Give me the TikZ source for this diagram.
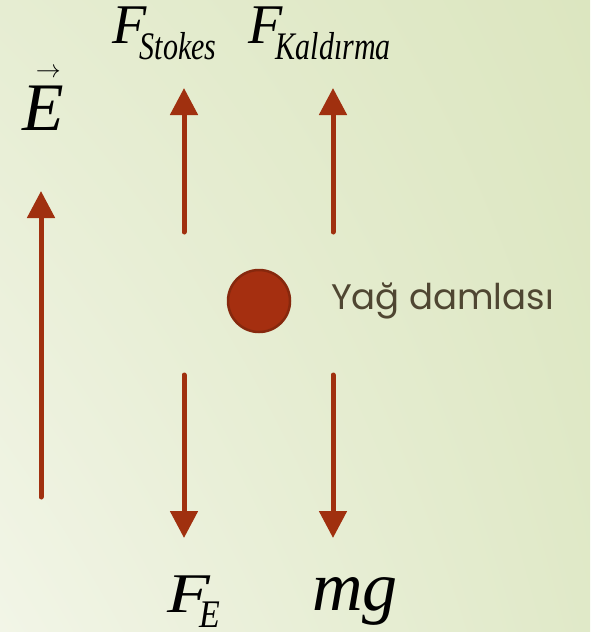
\documentclass[tikz,border=0pt]{standalone}
\usepackage{fontspec}
\setmainfont{Liberation Serif}
\newfontfamily\gothic{Poppins}
\usepackage{graphicx}
\usetikzlibrary{arrows.meta,shadings}
\definecolor{rust}{HTML}{A0300F}
\definecolor{rustdark}{HTML}{86280D}
\definecolor{drop}{HTML}{A52F10}
\definecolor{caption}{HTML}{4F4632}
\definecolor{bgUL}{HTML}{E6EDD2}
\definecolor{bgUR}{HTML}{DCE6C0}
\definecolor{bgLL}{HTML}{F2F5E7}
\definecolor{bgLR}{HTML}{E0E9C8}
\newcommand{\Sub}[1]{\scalebox{1}[1.3]{\fontsize{30}{30}\selectfont\textit{#1}}}
\newcommand{\Force}[1]{{\fontsize{56}{56}\selectfont\textit{F}}\kern-7pt\raisebox{-16pt}{\Sub{#1}}}

\begin{document}
\begin{tikzpicture}[x=1pt,y=-1pt,
    force/.style={rust,line width=5pt,line cap=round,-{Triangle[width=27pt,length=27pt]}},
    lbl/.style={anchor=base west,inner sep=0pt}]
  % background
  \shade[upper left=bgUL,upper right=bgUR,lower left=bgLL,lower right=bgLR]
    (0,632) rectangle (590,0);
  \useasboundingbox (0,0) rectangle (590,632);

  % field
  \coordinate (e0) at (41,497);
  \coordinate (e1) at (41,191);
  \draw[force] (e0) -- (e1);
  \node[lbl] (E) at (22,130) {\fontsize{68}{68}\selectfont\textit{E}%
    \llap{\raisebox{53pt}{\fontsize{26}{26}\selectfont$\rightarrow$}\kern3pt}};

  % the drop
  \node[circle,fill=drop,draw=rustdark,line width=2.5pt,minimum size=62pt,inner sep=0pt] (drop) at (259,301) {};
  \node[lbl,font=\gothic\fontsize{35.5}{35.5}\selectfont,text=caption] (yag) at (331,309) {Yağ damlası};

  % upward forces
  \coordinate (s0) at (184,232);
  \coordinate (s1) at (184,88);
  \coordinate (k0) at (333,232);
  \coordinate (k1) at (333,88);
  \draw[force] (s0) -- (s1);
  \draw[force] (k0) -- (k1);
  \node[lbl] (Fs) at (112,43) {\Force{Stokes}};
  \node[lbl] (Fk) at (248,43) {\Force{Kaldırma}};

  % downward forces
  \coordinate (f0) at (184,375);
  \coordinate (f1) at (184,538);
  \coordinate (g0) at (333,375);
  \coordinate (g1) at (333,538);
  \draw[force] (f0) -- (f1);
  \draw[force] (g0) -- (g1);
  \node[lbl] (Fe) at (167,612) {\scalebox{1.25}[1]{\fontsize{56}{56}\selectfont\textit{F}}\kern-11pt\raisebox{-15pt}{\scalebox{1}[1.15]{\fontsize{34}{34}\selectfont\textit{E}}}};
  \node[lbl] (mg) at (312,610) {\fontsize{70}{70}\selectfont\textit{mg}};
\end{tikzpicture}
\end{document}
